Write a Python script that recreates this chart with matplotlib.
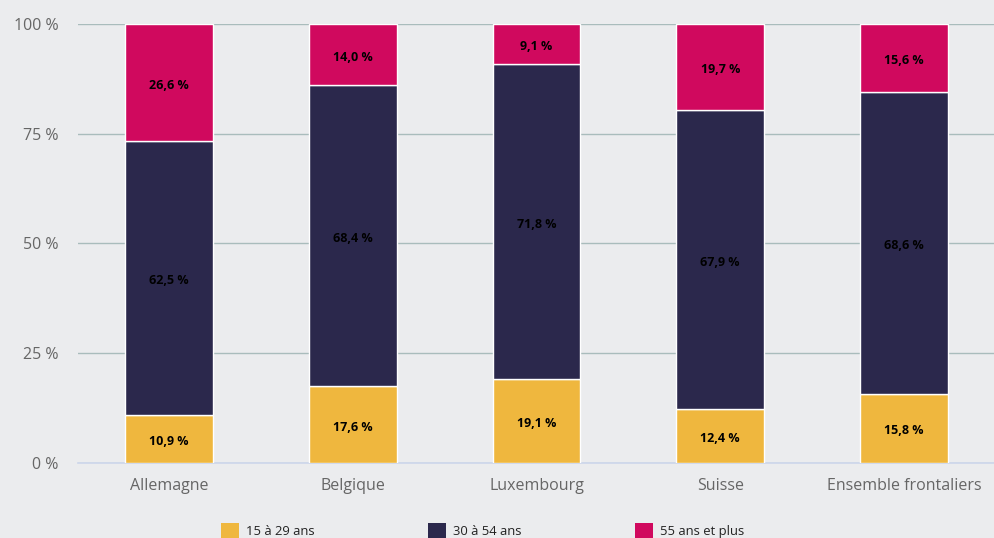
import matplotlib.pyplot as plt
import numpy as np
from matplotlib.patches import Patch

plt.rcParams["font.family"] = ["Open Sans", "DejaVu Sans"]

pays = ["Allemagne", "Belgique", "Luxembourg", "Suisse", "Ensemble frontaliers"]
age_15_29 = [10.9, 17.6, 19.1, 12.4, 15.8]
age_30_54 = [62.5, 68.4, 71.8, 67.9, 68.6]
age_55_plus = [26.6, 14.0, 9.1, 19.7, 15.6]
series_labels = ["15 à 29 ans", "30 à 54 ans", "55 ans et plus"]
colors = ["#efb73e", "#2b284c", "#d0095e"]
yticks = [0, 25, 50, 75, 100]

bg = "#ebecee"
fig = plt.figure(figsize=(9.94, 5.38), dpi=100, facecolor=bg)
ax = fig.add_axes([0.0785, 0.1394, 0.9215, 0.816], facecolor=bg)

x = np.arange(len(pays))
bottom = np.zeros(len(pays))
for vals, col in zip([age_15_29, age_30_54, age_55_plus], colors):
    vals = np.array(vals)
    ax.bar(x, vals, bottom=bottom, width=0.478, color=col,
           edgecolor="white", linewidth=1, zorder=3)
    for xi, b, v in zip(x, bottom, vals):
        ax.text(xi, b + v / 2 - 0.6, f"{v:.1f} %".replace(".", ","),
                ha="center", va="center", fontsize=9, fontweight="bold",
                color="black", zorder=4)
    bottom += vals

ax.set_xlim(-0.495, 4.49)
ax.set_ylim(0, 100)
ax.set_yticks(yticks)
ax.set_yticklabels([f"{t} %" for t in yticks])
ax.set_xticks(x)
ax.set_xticklabels(pays)
ax.grid(axis="y", color="#a9bcbc", linewidth=1, zorder=0)
ax.tick_params(axis="both", length=0, labelsize=11.5, labelcolor="#666666")
ax.tick_params(axis="y", pad=14)
ax.tick_params(axis="x", pad=11)
for side in ["top", "right", "left"]:
    ax.spines[side].set_visible(False)
ax.spines["bottom"].set_color("#ccd6eb")
ax.spines["bottom"].set_linewidth(1.2)

handles = [Patch(facecolor=c, edgecolor="none") for c in colors]
fig.legend(handles, series_labels, loc="upper left", ncol=3,
           bbox_to_anchor=(0.2155, 0.0394), frameon=False, fontsize=9.4,
           handlelength=1.38, handleheight=1.38, handletextpad=0.53,
           columnspacing=8.7, borderpad=0, labelcolor="#222222")

fig.savefig("out.png", dpi=100, facecolor=bg)
